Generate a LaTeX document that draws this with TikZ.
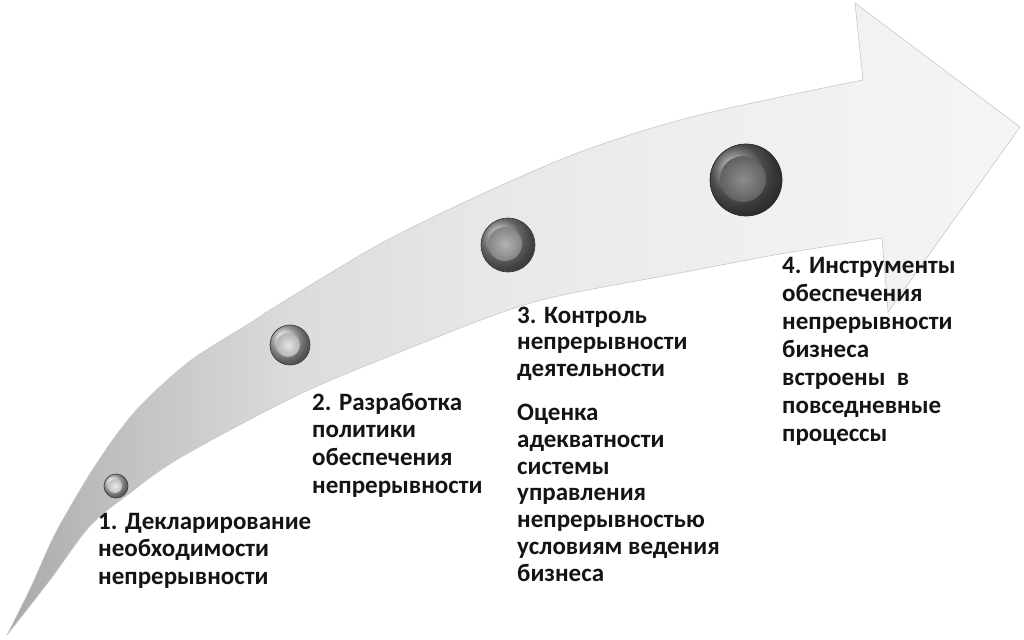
\documentclass[tikz,border=0pt]{standalone}
\usepackage{fontspec}
\setmainfont{Carlito}
\pgfdeclarehorizontalshading{arrowshade}{100bp}{color(0bp)=(black!34); color(25bp)=(black!34); color(29.5bp)=(black!26); color(39bp)=(black!14); color(49bp)=(black!9); color(62bp)=(black!6); color(75bp)=(black!4); color(100bp)=(black!4)}
\tikzset{
  arrowbody/.style={shading=arrowshade, draw=black!22, line width=0.6pt},
  btn/.style={circle, inner sep=0pt, draw=black!75, line width=0.7pt},
  btninner/.style={circle, inner sep=0pt},
  txt/.style={inner sep=0pt, align=left, text=black!92, font=\bfseries\fontsize{25}{27.7}\selectfont}
}
\begin{document}
\begin{tikzpicture}[x=1pt,y=-1pt]
\useasboundingbox (0,0) rectangle (1024,639);
% curved arrow
\path[arrowbody]
  plot[smooth, tension=0.55] coordinates {(7,635) (30,589) (53,538) (73,502) (93,469) (117,434) (143,403) (190,361) (250,323) (283,302) (380,244) (480,195) (580,152) (680,120) (780,97) (863,80)}
  -- (855,3) -- (1020,127) -- (888,312) -- (882,238)
  -- plot[smooth, tension=0.55] coordinates {(882,238) (780,254) (680,273) (563,295) (500,313) (400,352) (313,388) (245,422) (173,462) (130,493) (90,526) (50,580) (7,635)}
  -- cycle;
% buttons
\node[btn, minimum size=24pt, ball color=black!20] (s1) at (116,486) {};
\node[btninner, minimum size=14pt, inner color=black!8, outer color=black!25] at (115,486) {};
\node[btn, minimum size=40pt, ball color=black!26] (s2) at (290,345) {};
\node[btninner, minimum size=24pt, inner color=black!10, outer color=black!30] at (288,345) {};
\node[btn, minimum size=54pt, ball color=black!45] (s3) at (508,245) {};
\node[btninner, minimum size=34pt, inner color=black!30, outer color=black!48] at (505,244) {};
\node[btn, minimum size=72pt, ball color=black!58, draw=black!85] (s4) at (746,180) {};
\node[btninner, minimum size=46pt, inner color=black!45, outer color=black!62] at (743,179) {};
% texts (base anchor = baseline of the last line)
\node[txt, anchor=base west] (t1) at (98,584.4) {1. Декларирование\\необходимости\\непрерывности};
\node[txt, anchor=base west] (t2) at (312,493.1) {2. Разработка\\политики\\обеспечения\\непрерывности};
\node[txt, anchor=base west, font=\bfseries\fontsize{25}{26.8}\selectfont] (t3) at (517,581.2) {3. Контроль\\непрерывности\\деятельности\\[17pt]Оценка\\адекватности\\системы\\управления\\непрерывностью\\условиям ведения\\бизнеса};
\node[txt, anchor=base west, font=\bfseries\fontsize{25}{28.1}\selectfont] (t4) at (782,441.6) {4. Инструменты\\обеспечения\\непрерывности\\бизнеса\\встроены\ \ в\\повседневные\\процессы};
\end{tikzpicture}
\end{document}
